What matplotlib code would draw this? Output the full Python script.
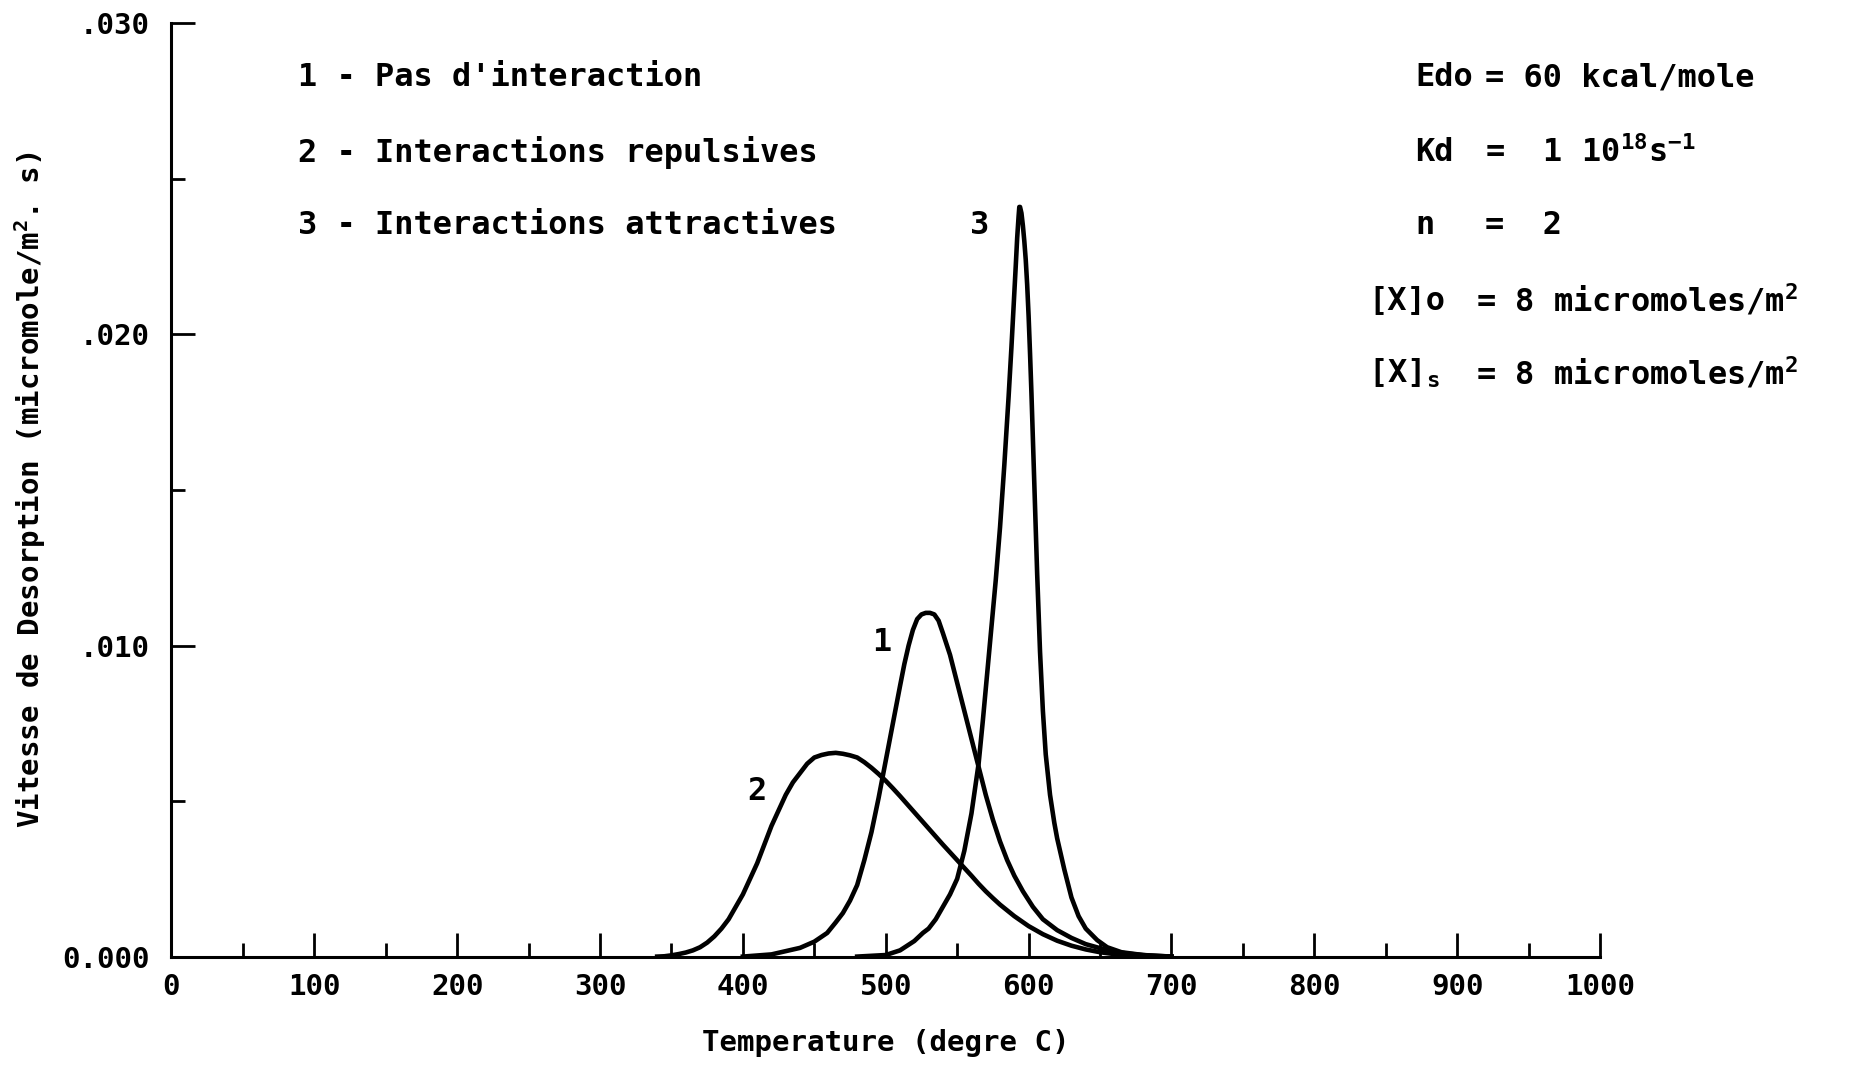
"""
Vitesse de desorption en fonction de la temperature (3 cas d'interaction)
"""
import matplotlib
matplotlib.use('Agg')
import matplotlib.pyplot as plt

plt.rcParams['font.family'] = ['DejaVu Sans Mono', 'DejaVu Sans']
plt.rcParams['font.weight'] = 'bold'
plt.rcParams['axes.labelweight'] = 'bold'
plt.rcParams['mathtext.default'] = 'regular'

# ---- donnees ----
# 1 - pas d'interaction
t1 = [400, 420, 440, 450, 459, 465, 470, 475, 480, 485, 490, 495, 500, 505, 510,
      513, 516, 519, 522, 525, 528, 531, 534, 537, 540, 545, 550, 555, 560, 565,
      570, 575, 580, 585, 590, 596, 603, 610, 620, 630, 640, 650, 660, 670, 685, 700]
v1 = [0.0, 0.00007, 0.00028, 0.00048, 0.00076, 0.0011, 0.0014, 0.0018, 0.0023, 0.0031,
      0.0040, 0.0051, 0.0063, 0.0075, 0.0087, 0.0094, 0.0100, 0.0105, 0.01085, 0.0110,
      0.01105, 0.01105, 0.0110, 0.0108, 0.0104, 0.0097, 0.0088, 0.0079, 0.0070, 0.0061,
      0.0052, 0.0044, 0.0037, 0.0031, 0.0026, 0.0021, 0.0016, 0.0012, 0.00085, 0.0006,
      0.0004, 0.00027, 0.00016, 0.00009, 0.00003, 0.0]

# 2 - interactions repulsives
t2 = [340, 345, 350, 355, 360, 365, 370, 375, 380, 385, 390, 395, 400, 405, 410,
      415, 420, 425, 430, 435, 440, 445, 450, 455, 460, 465, 470, 475, 480, 485,
      490, 495, 500, 505, 510, 515, 520, 525, 530, 535, 540, 545, 550, 555, 560,
      565, 570, 575, 580, 590, 600, 610, 620, 630, 640, 650, 660, 680, 700]
v2 = [0.0, 0.00001, 0.00004, 0.00008, 0.00013, 0.0002, 0.0003, 0.00045, 0.00065, 0.0009,
      0.0012, 0.0016, 0.0020, 0.0025, 0.0030, 0.0036, 0.0042, 0.0047, 0.0052, 0.0056,
      0.0059, 0.0062, 0.0064, 0.00648, 0.00653, 0.00655, 0.00652, 0.00647, 0.00640, 0.00625,
      0.00607, 0.00587, 0.00565, 0.00541, 0.00516, 0.00490, 0.00464, 0.00438, 0.00412, 0.00386,
      0.00360, 0.00335, 0.00310, 0.00285, 0.00260, 0.00234, 0.00210, 0.00188, 0.00167, 0.00130,
      0.00098, 0.00072, 0.00051, 0.00035, 0.00023, 0.00014, 0.00008, 0.00002, 0.0]

# 3 - interactions attractives
t3 = [480, 500, 510, 520, 526, 530, 535, 540, 545, 550, 555, 560, 565, 568, 571,
      574, 577, 580, 583, 586, 588, 589.5, 591, 592, 593, 593.5, 594, 595, 596, 597,
      598, 599, 600, 601, 602, 604, 606, 608, 610, 612, 615, 618, 620, 625, 630,
      635, 640, 648, 655, 665, 680, 700]
v3 = [0.0, 0.00005, 0.0002, 0.0005, 0.00076, 0.0009, 0.0012, 0.0016, 0.0020, 0.0025,
      0.0034, 0.0046, 0.0062, 0.0076, 0.0091, 0.0106, 0.0121, 0.0138, 0.0158, 0.0180,
      0.0196, 0.0209, 0.0222, 0.0231, 0.0238, 0.0241, 0.0241, 0.0239, 0.0235, 0.0230,
      0.0224, 0.0216, 0.0206, 0.0194, 0.0181, 0.0152, 0.0123, 0.0098, 0.0079, 0.0065,
      0.0052, 0.0043, 0.0038, 0.0028, 0.0019, 0.0013, 0.0009, 0.00053, 0.0003, 0.00014,
      0.00005, 0.0]

xticks = [0, 100, 200, 300, 400, 500, 600, 700, 800, 900, 1000]
yticks = [0.0, 0.010, 0.020, 0.030]
ylabels = ['0.000', '.010', '.020', '.030']

legende = ["1 - Pas d'interaction",
           "2 - Interactions repulsives",
           "3 - Interactions attractives"]

# ---- figure ----
fig = plt.figure(figsize=(18.54, 10.65), dpi=100)
ax = fig.add_axes([0.0925, 0.1018, 0.7705, 0.8762])

lw = 3.3
ax.plot(t1, v1, color='black', lw=lw, solid_joinstyle='round')
ax.plot(t2, v2, color='black', lw=lw, solid_joinstyle='round')
ax.plot(t3, v3, color='black', lw=lw, solid_joinstyle='round')

ax.set_xlim(0, 1000)
ax.set_ylim(0, 0.030)
ax.spines['top'].set_visible(False)
ax.spines['right'].set_visible(False)
ax.spines['left'].set_linewidth(2.2)
ax.spines['bottom'].set_linewidth(2.2)

ax.set_xticks(xticks)
ax.set_xticklabels([str(x) for x in xticks])
ax.set_xticks([50 + 100 * i for i in range(10)], minor=True)
ax.set_yticks(yticks)
ax.set_yticklabels(ylabels)
ax.set_yticks([0.005, 0.015, 0.025], minor=True)
ax.tick_params(which='major', direction='in', length=17, width=2, labelsize=21, pad=12)
ax.tick_params(which='minor', direction='in', length=10, width=2)
ax.tick_params(axis='y', which='major', pad=16)

ax.set_xlabel("Temperature (degre C)", fontsize=21, labelpad=20)
ax.set_ylabel("Vitesse de Desorption (micromole/m$^2$. s)", fontsize=21, labelpad=10)

fs = 23
# legende a gauche
for y, s in zip([0.02825, 0.02585, 0.0235], legende):
    ax.text(88.5, y, s, fontsize=fs, ha='left', va='center')

# numeros des courbes
ax.text(566, 0.0235, "3", fontsize=fs, ha='center', va='center')
ax.text(497, 0.0101, "1", fontsize=fs, ha='center', va='center')
ax.text(410, 0.0053, "2", fontsize=fs, ha='center', va='center')

# parametres a droite
ax.text(870.7, 0.02825, "Edo", fontsize=fs, ha='left', va='center')
ax.text(919.5, 0.02825, "= 60 kcal/mole", fontsize=fs, ha='left', va='center')
ax.text(870.7, 0.02585, "Kd", fontsize=fs, ha='left', va='center')
ax.text(919.5, 0.02585, "=  1 10$^{18}$s$^{-1}$", fontsize=fs, ha='left', va='center')
ax.text(870.7, 0.0235, "n", fontsize=fs, ha='left', va='center')
ax.text(919.5, 0.0235, "=  2", fontsize=fs, ha='left', va='center')
ax.text(837.6, 0.0211, "[X]o", fontsize=fs, ha='left', va='center')
ax.text(912.9, 0.0211, "= 8 micromoles/m$^2$", fontsize=fs, ha='left', va='center')
ax.text(837.6, 0.01875, "[X]$_s$", fontsize=fs, ha='left', va='center')
ax.text(912.9, 0.01875, "= 8 micromoles/m$^2$", fontsize=fs, ha='left', va='center')

fig.savefig('out.png', dpi=100)
